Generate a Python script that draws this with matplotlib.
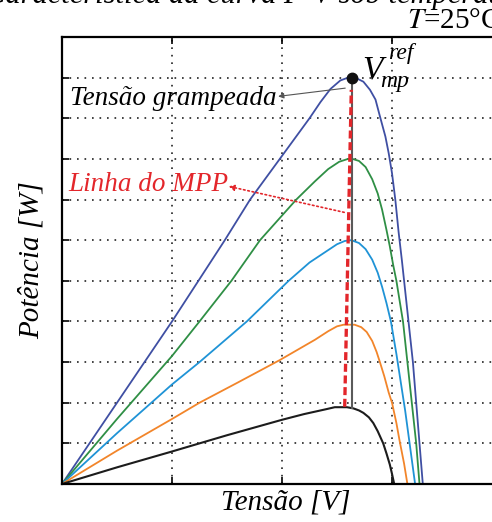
import matplotlib
matplotlib.use('Agg')
import matplotlib.pyplot as plt

plt.rcParams['font.family'] = ['Liberation Serif', 'DejaVu Serif']
plt.rcParams['mathtext.fontset'] = 'stix'

# P-V curves for decreasing irradiance (voltage, power)
v_blue = [0, 0.5, 1.0, 1.24, 1.48, 1.71, 1.98, 2.25, 2.35, 2.44, 2.53, 2.60, 2.64, 2.68, 2.74,
          2.80, 2.85, 2.89, 2.94, 2.97, 3.00, 3.03, 3.06, 3.09, 3.11, 3.15, 3.19, 3.22, 3.25, 3.28]
p_blue = [0, 2.0, 4.0, 5.0, 6.0, 7.0, 8.0, 9.0, 9.4, 9.72, 9.93, 10.0, 10.0, 9.98, 9.9,
          9.7, 9.46, 9.05, 8.55, 8.14, 7.65, 7.0, 6.2, 5.5, 5.0, 4.0, 3.0, 2.0, 1.0, 0]

v_green = [0, 0.5, 1.0, 1.25, 1.54, 1.80, 2.13, 2.30, 2.42, 2.52, 2.60, 2.64, 2.70, 2.76, 2.82,
           2.87, 2.91, 2.95, 2.98, 3.01, 3.04, 3.10, 3.14, 3.18, 3.22, 3.25]
p_green = [0, 1.6, 3.15, 4.0, 5.0, 6.0, 7.0, 7.45, 7.75, 7.93, 8.0, 8.0, 7.95, 7.8, 7.5,
           7.15, 6.75, 6.25, 5.85, 5.4, 5.0, 4.0, 3.0, 2.0, 1.0, 0]

v_cyan = [0, 0.5, 1.0, 1.25, 1.68, 2.06, 2.25, 2.40, 2.50, 2.57, 2.63, 2.70, 2.76, 2.82, 2.87,
          2.91, 2.95, 2.99, 3.04, 3.08, 3.12, 3.16, 3.21]
p_cyan = [0, 1.25, 2.45, 3.0, 4.0, 5.0, 5.45, 5.72, 5.9, 5.98, 6.0, 5.93, 5.78, 5.52, 5.2,
          4.85, 4.45, 4.0, 3.2, 2.5, 1.8, 1.0, 0]

v_orange = [0, 0.5, 1.0, 1.25, 1.6, 1.98, 2.30, 2.42, 2.50, 2.56, 2.66, 2.72, 2.77, 2.82, 2.86,
            2.89, 2.93, 2.97, 3.00, 3.04, 3.07, 3.11, 3.14]
p_orange = [0, 0.82, 1.6, 2.0, 2.5, 3.05, 3.55, 3.76, 3.88, 3.92, 3.92, 3.86, 3.74, 3.52, 3.25,
            3.0, 2.65, 2.25, 2.0, 1.5, 1.05, 0.5, 0]

v_black = [0, 0.5, 1.0, 1.5, 2.0, 2.2, 2.4, 2.48, 2.59, 2.65, 2.70, 2.74, 2.79, 2.83, 2.87,
           2.92, 2.95, 2.98, 3.00, 3.02]
p_black = [0, 0.41, 0.8, 1.2, 1.58, 1.72, 1.84, 1.89, 1.89, 1.86, 1.81, 1.75, 1.64, 1.5, 1.3,
           1.0, 0.75, 0.48, 0.25, 0]

# MPP line and clamped voltage line
mpp_v = [2.57, 2.63]
mpp_p = [1.9, 9.7]
clamp_v = [2.64, 2.64]
clamp_p = [1.86, 10.0]

fig = plt.figure(figsize=(4.92, 5.22), dpi=100)
ax = fig.add_axes([62 / 492, 38 / 522, 448 / 492, 447 / 522])

ax.plot(v_blue, p_blue, color='#3f4fa3', lw=1.3)
ax.plot(v_green, p_green, color='#2f8f45', lw=1.3)
ax.plot(v_cyan, p_cyan, color='#1f93d6', lw=1.3)
ax.plot(v_orange, p_orange, color='#f2852a', lw=1.3)
ax.plot(v_black, p_black, color='#1c1c1c', lw=1.5)

ax.plot(clamp_v, clamp_p, color='#5a5a5a', lw=1.5)
ax.plot(mpp_v, mpp_p, color='#e3262b', lw=2.4, dashes=(2.4, 1.1))
ax.plot(clamp_v[1], clamp_p[1], 'o', color='#111111', ms=7.5)

ax.set_xlim(0, 448 / 110)
ax.set_ylim(0, 11)
ax.set_xticks([1, 2, 3, 4])
ax.set_yticks(range(1, 11))
ax.tick_params(direction='in', length=5, width=1.2, top=True, right=True,
               labelbottom=False, labelleft=False)
ax.grid(True, color='#222222', lw=1.2, linestyle=(0, (1, 3.5)))
for s in ax.spines.values():
    s.set_linewidth(1.6)

ax.set_xlabel('Tensão [V]', fontsize=21, style='italic', labelpad=4)
ax.set_ylabel('Potência [W]', fontsize=21, style='italic')
ax.yaxis.set_label_coords(-0.038, 0.5)

# annotations
ax.annotate('', xy=(1.94, 9.53), xytext=(2.6, 9.75),
            arrowprops=dict(arrowstyle='-|>', color='#555555', lw=0.8, mutation_scale=8))
ax.text(0.07, 9.33, 'Tensão grampeada', fontsize=19.5, style='italic', va='baseline')

ax.annotate('', xy=(1.49, 7.34), xytext=(2.59, 6.67),
            arrowprops=dict(arrowstyle='-|>', color='#e3262b', lw=1.2, linestyle=':',
                            mutation_scale=8))
ax.text(0.055, 7.22, 'Linha do MPP', fontsize=19.5, style='italic', va='baseline',
        color='#e3262b')

# V_mp^ref label, built from pieces to match the spacing
ax.text(2.73, 9.97, 'V', fontsize=24, style='italic', va='baseline')
ax.text(2.96, 10.45, 'ref', fontsize=17, style='italic', va='baseline')
ax.text(2.89, 9.76, 'mp', fontsize=17, style='italic', va='baseline')

fig.text(407 / 492, (522 - 28) / 522, '$T$=25°C', fontsize=21)
fig.text(-0.03, (522 - 3) / 522, 'Característica da curva P-V sob temperatura',
         fontsize=22, style='italic', va='baseline')

fig.savefig('out.png', dpi=100)
